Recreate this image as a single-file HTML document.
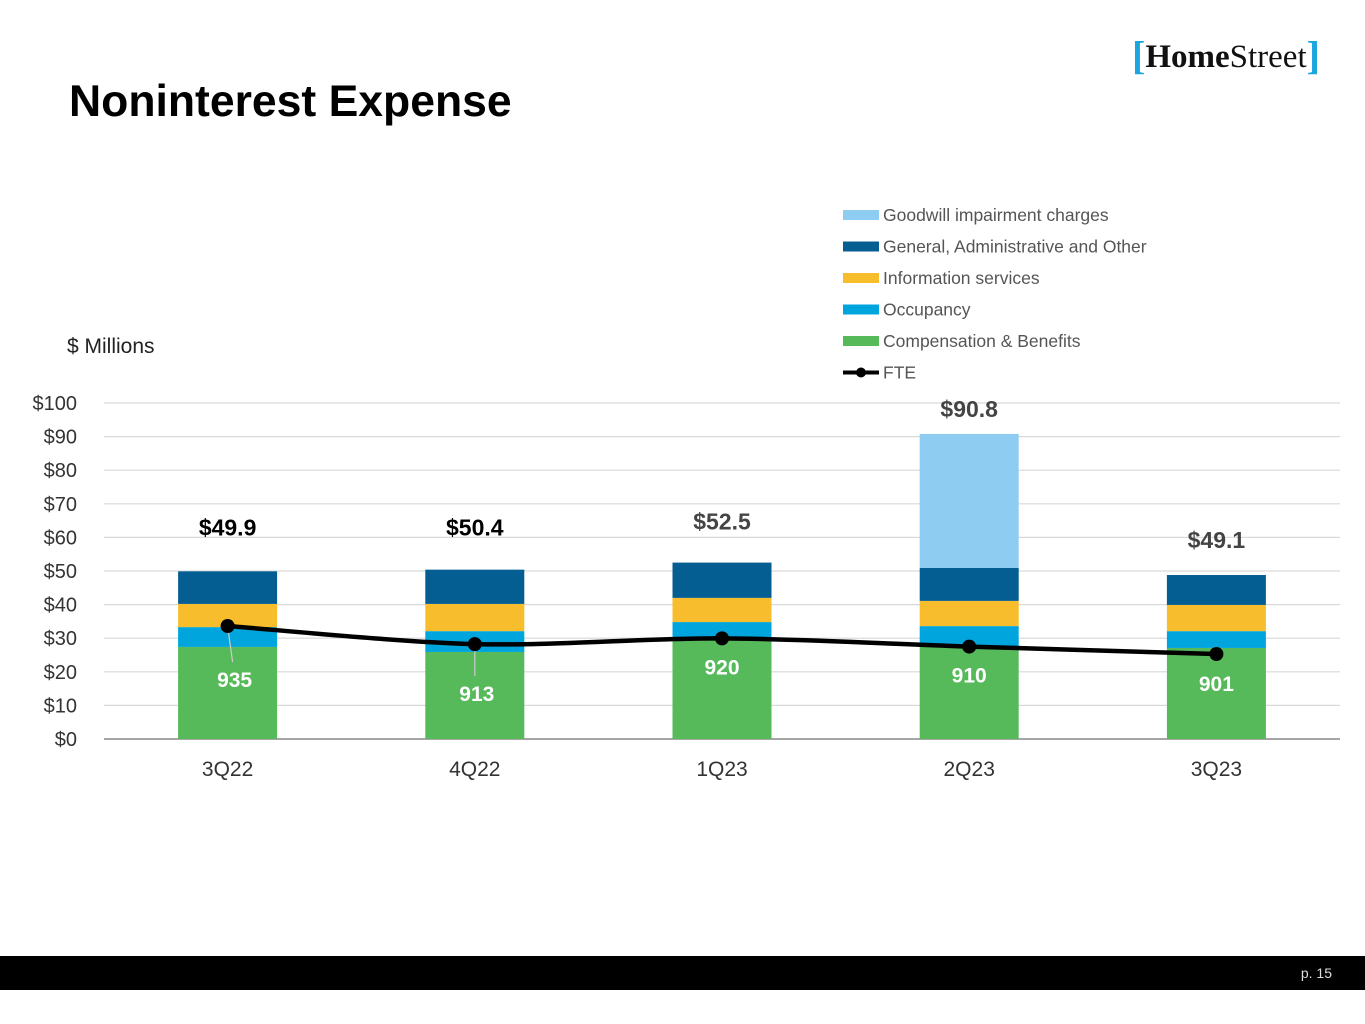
<!DOCTYPE html>
<html><head><meta charset="utf-8"><style>
body{margin:0;width:1365px;height:1024px;background:#fff;font-family:"Liberation Sans",sans-serif;position:relative;overflow:hidden}
.title{position:absolute;left:69px;top:77px;font-size:44.5px;font-weight:bold;color:#000}
.logo{position:absolute;left:1132px;top:30px;font-family:"Liberation Serif",serif;font-size:33px;color:#111}
.logo b{color:#1ba6df;font-weight:bold;font-size:40px;position:relative;top:2px}
.footer{position:absolute;left:0;top:956px;width:1365px;height:34px;background:#000;color:#ddd;font-size:14px}
.footer span{position:absolute;right:33px;top:9px}
svg{position:absolute;left:0;top:0}
</style></head><body>
<div class="title">Noninterest Expense</div>
<div class="logo"><b>[</b><span style="font-weight:bold">Home</span>Street<b>]</b></div>
<div class="footer"><span>p. 15</span></div>
<svg id="chart" width="1365" height="1024"></svg>
<script>
const categories=["3Q22","4Q22","1Q23","2Q23","3Q23"];
const comp=[27.4,25.9,29.5,27.4,27.1];
const occupancy=[5.9,6.2,5.3,6.2,5.0];
const infoServices=[6.9,8.1,7.2,7.5,7.8];
const gaOther=[9.7,10.2,10.5,9.8,8.9];
const goodwill=[0,0,0,39.9,0];
const totals=["$49.9","$50.4","$52.5","$90.8","$49.1"];
const fte=[935,913,920,910,901];
const yTicks=[0,10,20,30,40,50,60,70,80,90,100];
const seriesNames=["Goodwill impairment charges","General, Administrative and Other","Information services","Occupancy","Compensation & Benefits"];
const seriesColors=["#8ecdf1","#045e91","#f8bd2c","#00a5dd","#56b95a"];
const NS="http://www.w3.org/2000/svg";
const svg=document.getElementById('chart');
const x0=104,x1=1340,yB=739,yT=403;
const y=v=>yB-(v/100)*(yB-yT);
const bw=(x1-x0)/categories.length;
const xc=i=>x0+bw*(i+0.5);
const y2=v=>yB-((v-797.8)/(1205.8-797.8))*(yB-yT);
const totalOff=[36,34,33,17,27];
const fteOffY=[61,57,36,36,37];
const fteOffX=[7,2,0,0,0];
function mk(t,a,txt){const e=document.createElementNS(NS,t);for(const k in a)e.setAttribute(k,a[k]);if(txt!=null)e.textContent=txt;svg.appendChild(e);return e;}
yTicks.forEach(t=>{
 const g=mk('line',{x1:x0,x2:x1,y1:y(t),y2:y(t),stroke:t==0?'#888':'#d9d9d9','stroke-width':t==0?1.5:1.2});
 
 
 const l=mk('text',{x:77,y:y(t)+7,'text-anchor':'end','font-size':20,fill:'#333'},'$'+t);
 
 
});
const yl=mk('text',{x:67,y:353,'font-size':21,fill:'#222'},'$ Millions');


const stacks=[comp,occupancy,infoServices,gaOther,goodwill];
const colorsBottomUp=["#56b95a","#00a5dd","#f8bd2c","#045e91","#8ecdf1"];
categories.forEach((c,i)=>{
 let base=0;
 stacks.forEach((s,k)=>{
  if(s[i]<=0)return;
  const r=mk('rect',{x:xc(i)-49.5,width:99,y:y(base+s[i]),height:y(base)-y(base+s[i]),fill:colorsBottomUp[k]});
  
  
  base+=s[i];
 });
 const tl=mk('text',{x:xc(i),y:y(base)-totalOff[i],'text-anchor':'middle','font-size':23,'font-weight':'bold',fill:i>=2?'#444':'#000'},totals[i]);
 
 
 const cl=mk('text',{x:xc(i),y:776,'text-anchor':'middle','font-size':21,fill:'#333'},c);
 
 
});
const pts=fte.map((v,i)=>[xc(i),y2(v)]);
let d='M'+pts[0][0]+','+pts[0][1];
for(let i=0;i<pts.length-1;i++){
 const p0=pts[Math.max(0,i-1)],p1=pts[i],p2=pts[i+1],p3=pts[Math.min(pts.length-1,i+2)];
 const t=0.15;
 d+=` C${p1[0]+(p2[0]-p0[0])*t},${p1[1]+(p2[1]-p0[1])*t} ${p2[0]-(p3[0]-p1[0])*t},${p2[1]-(p3[1]-p1[1])*t} ${p2[0]},${p2[1]}`;
}
const ln=mk('path',{d:d,fill:'none',stroke:'#000','stroke-width':4.5});


pts.forEach((p,i)=>{
 if(i<2){const ll=mk('line',{x1:p[0],y1:p[1],x2:p[0]+fteOffX[i]-2,y2:p[1]+fteOffY[i]-25,stroke:'#ccc','stroke-width':1.2});
 
 }
 const c=mk('circle',{cx:p[0],cy:p[1],r:7,fill:'#000'});
 
 
 const t=mk('text',{x:p[0]+fteOffX[i],y:p[1]+fteOffY[i],'text-anchor':'middle','font-size':21,'font-weight':'bold',fill:'#fff'},fte[i]);
 
 
});
seriesNames.forEach((n,k)=>{
 const yy=215+k*31.5;
 const r=mk('rect',{x:843,y:yy-5,width:36,height:10,fill:seriesColors[k]});
 
 
 const t=mk('text',{x:883,y:yy+6,'font-size':17.5,fill:'#555'},n);
 
 
});
const fy=215+5*31.5;
const fl=mk('line',{x1:843,x2:879,y1:fy,y2:fy,stroke:'#000','stroke-width':4});


const fc=mk('circle',{cx:861,cy:fy,r:5,fill:'#000'});


const ft=mk('text',{x:883,y:fy+6,'font-size':17.5,fill:'#555'},'FTE');


</script>
</body></html>
